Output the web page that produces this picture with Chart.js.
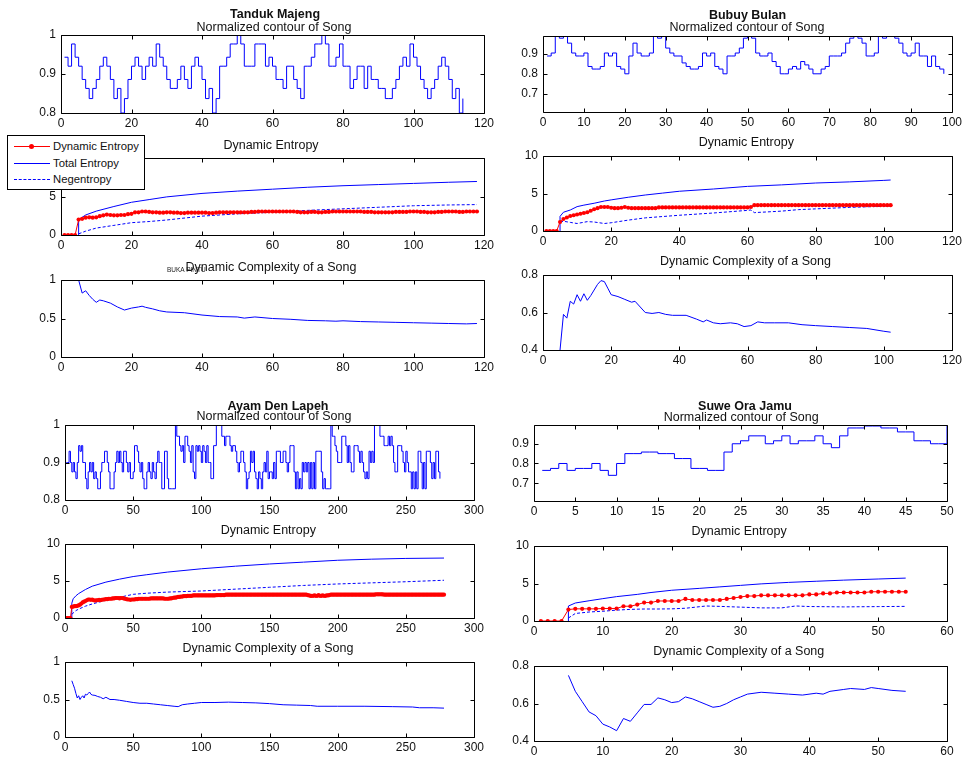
<!DOCTYPE html>
<html>
<head>
<meta charset="utf-8">
<title>Song entropy panels</title>
<script src="https://cdn.jsdelivr.net/npm/chart.js@4.4.0/dist/chart.umd.min.js"></script>
<style>
  html, body { margin: 0; padding: 0; background: #fff; overflow: hidden; }
  #page { position: relative; width: 964px; height: 760px; font-family: "Liberation Sans", Arial, sans-serif; color: #111; }
  #page canvas { position: absolute; }
  .ttl { position: absolute; width: 300px; margin-left: -150px; text-align: center; font-size: 12.5px; line-height: 14px; white-space: nowrap; z-index: 3; }
  .ttl.b { font-weight: bold; }
  #legend { position: absolute; left: 7px; top: 135px; width: 136px; height: 53px; border: 1px solid #000; background: #fff; z-index: 4; font-size: 11.3px; }
  #legend .row { position: absolute; left: 0; width: 136px; height: 14px; }
  #legend .ln { position: absolute; left: 6px; width: 36px; top: 7px; height: 0; border-top: 1px solid; }
  #legend .dot { position: absolute; left: 21px; top: 5px; width: 5px; height: 5px; border-radius: 50%; background: #ff0000; }
  #legend .tx { position: absolute; left: 45px; top: 0; line-height: 14px; }
  #tiny { position: absolute; left: 167px; top: 266px; font-size: 6.5px; color: #222; z-index: 2; }
</style>
</head>
<body>
<div id="page">
  <div id="legend">
    <div class="row" style="top:3px"><div class="ln" style="border-color:#ff0000"></div><div class="dot"></div><div class="tx">Dynamic Entropy</div></div>
    <div class="row" style="top:20px"><div class="ln" style="border-color:#0000ff"></div><div class="tx">Total Entropy</div></div>
    <div class="row" style="top:36px"><div class="ln" style="border-top:1px dashed #0000ff"></div><div class="tx">Negentropy</div></div>
  </div>
  <div id="tiny">BUKA PINTU</div>
</div>
<script>
/* ────────────────────────────────────────────
   DATA
──────────────────────────────────────────── */

// --- Tanduk Majeng ---
const tmContour = [
  0.943,0.92,0.977,0.943,0.92,0.886,0.863,0.837,0.863,0.886,
  0.92,0.943,0.92,0.886,0.837,0.863,0.8,0.837,0.886,0.92,
  0.943,0.92,0.886,0.92,0.943,0.92,0.977,0.943,0.92,0.886,
  0.863,0.863,0.886,0.92,0.886,0.863,0.92,0.943,0.92,0.886,
  0.837,0.863,0.8,0.837,0.92,0.92,0.943,0.977,0.977,1,
  0.977,0.92,0.92,0.92,0.977,0.977,0.977,0.92,0.943,0.92,
  0.886,0.886,0.863,0.92,0.92,0.886,0.863,0.837,0.92,0.92,
  0.943,0.977,0.977,1,0.977,0.92,0.92,0.943,0.977,0.92,
  0.92,0.863,0.886,0.92,0.92,0.863,0.92,0.886,0.886,0.863,
  0.863,0.837,0.837,0.863,0.886,0.92,0.943,0.92,0.977,0.943,
  0.92,0.886,0.863,0.837,0.863,0.886,0.92,0.943,0.92,0.886,
  0.837,0.863,0.8,0.837
];
const tmDynamic = [
  0,0,0,0,2.0,2.1,2.25,2.3,2.25,2.3,
  2.45,2.55,2.65,2.6,2.55,2.55,2.6,2.6,2.7,2.75,
  2.95,2.95,3.05,3.05,3.0,2.95,2.95,2.9,2.9,2.95,
  2.95,2.9,2.9,2.85,2.85,2.9,2.9,2.9,2.9,2.9,
  2.9,2.85,2.85,2.9,2.95,2.95,2.95,2.95,2.95,2.95,
  2.95,2.95,2.95,3.0,3.0,3.05,3.05,3.05,3.05,3.05,
  3.05,3.05,3.05,3.05,3.05,3.05,3.0,2.95,2.95,2.95,
  3.0,3.0,2.95,2.95,3.0,3.0,3.05,3.05,3.05,3.05,
  3.05,3.05,3.05,3.05,3.05,3.0,3.0,3.0,2.95,2.95,
  2.95,2.95,2.95,2.95,3.0,3.0,3.0,3.0,3.05,3.05,
  3.05,3.0,3.0,2.95,2.95,2.95,3.0,3.0,3.05,3.05,
  3.05,3.05,3.0,3.0,3.05,3.05,3.05,3.05
];
const tmTotalX = [5,5,7,10,15,20,25,30,40,50,60,70,80,90,100,110,118];
const tmTotalY = [0,2.0,2.6,3.1,3.7,4.25,4.6,4.95,5.4,5.7,5.95,6.2,6.4,6.55,6.7,6.85,6.95];
const tmNegX = [5,7,10,15,20,25,30,40,50,60,70,80,90,100,110,118];
const tmNegY = [0.15,0.5,0.9,1.25,1.6,1.75,1.95,2.45,2.75,2.95,3.2,3.4,3.6,3.8,3.9,3.95];
const tmCplxX = [5,6,7,8,9,10,11,12,14,16,18,20,22,23,24,26,28,30,35,40,45,50,52,55,60,65,70,75,78,80,85,90,95,100,105,110,115,118];
const tmCplxY = [1.0,0.83,0.86,0.8,0.75,0.71,0.74,0.73,0.7,0.65,0.61,0.635,0.65,0.66,0.645,0.625,0.6,0.585,0.575,0.545,0.525,0.52,0.505,0.52,0.5,0.49,0.475,0.47,0.465,0.47,0.46,0.455,0.45,0.445,0.44,0.435,0.43,0.435];

// --- Bubuy Bulan ---
const bbContour = [
  0.89,0.905,0.99,0.98,0.99,0.955,0.905,0.89,0.89,0.905,
  0.837,0.824,0.824,0.837,0.905,0.89,0.905,0.837,0.824,0.8,
  0.89,0.955,0.905,0.89,0.89,0.905,0.99,0.98,0.99,0.93,
  0.905,0.89,0.89,0.855,0.837,0.824,0.824,0.837,0.905,0.89,
  0.905,0.837,0.824,0.8,0.89,0.89,0.905,0.93,0.98,0.99,
  0.98,0.905,0.89,0.89,0.905,0.862,0.837,0.8,0.8,0.824,
  0.837,0.824,0.862,0.845,0.824,0.8,0.8,0.824,0.837,0.89,
  0.89,0.89,0.905,0.955,0.98,0.99,0.98,0.955,0.89,0.89,
  0.905,0.99,0.98,0.99,0.99,0.98,0.955,0.905,0.89,0.905,
  0.955,0.89,0.89,0.837,0.89,0.837,0.824,0.8
];
const bbDynamic = [
  0,0,0,0,1.2,1.6,1.8,2.0,2.1,2.2,
  2.3,2.4,2.5,2.7,2.9,3.05,3.2,3.2,3.2,3.1,
  3.05,3.05,3.1,3.2,3.1,3.05,3.05,3.05,3.05,3.05,
  3.05,3.05,3.05,3.15,3.15,3.15,3.15,3.15,3.15,3.15,
  3.15,3.15,3.15,3.15,3.15,3.15,3.15,3.15,3.15,3.15,
  3.15,3.15,3.15,3.15,3.15,3.15,3.15,3.15,3.15,3.15,
  3.2,3.45,3.45,3.45,3.45,3.45,3.45,3.45,3.45,3.45,
  3.45,3.45,3.45,3.45,3.45,3.45,3.45,3.45,3.45,3.45,
  3.45,3.45,3.45,3.45,3.45,3.45,3.45,3.45,3.45,3.45,
  3.45,3.45,3.45,3.45,3.45,3.45,3.45,3.45,3.45,3.45,
  3.45,3.45
];
const bbTotalX = [5,5,6,8,10,12,15,18,20,25,30,35,40,50,60,70,80,90,100,102];
const bbTotalY = [0,1.95,2.5,2.8,3.25,3.45,3.7,4.0,4.15,4.5,4.8,5.05,5.3,5.6,5.95,6.15,6.4,6.55,6.75,6.8];
const bbNegX = [5,6,8,10,13,15,18,20,25,30,40,50,60,61,62,70,75,80,90,100,102];
const bbNegY = [1.2,1.3,1.15,1.0,1.25,1.2,1.0,1.1,1.45,1.75,2.1,2.4,2.75,2.8,2.45,2.65,2.85,2.95,3.15,3.3,3.35];
const bbCplxX = [5,6,7,8,9,10,11,12,13,14,15,16,17,18,19,20,22,24,26,27,28,30,32,34,36,38,42,45,47,48,50,52,55,57,59,61,63,65,68,72,76,80,85,90,95,100,102];
const bbCplxY = [0.4,0.59,0.57,0.66,0.645,0.695,0.66,0.7,0.665,0.69,0.72,0.75,0.77,0.765,0.73,0.695,0.685,0.67,0.655,0.66,0.64,0.6,0.595,0.6,0.59,0.585,0.585,0.565,0.55,0.56,0.545,0.54,0.545,0.54,0.525,0.53,0.55,0.545,0.545,0.545,0.535,0.53,0.525,0.52,0.515,0.5,0.495];

// --- Ayam Den Lapeh ---
const adContour = [
  0.9,0.9,0.93,0.9,0.875,0.9,0.875,0.857,0.9,0.945,0.93,0.945,0.9,0.9,0.857,0.83,0.875,0.9,0.875,0.9,0.857,0.875,0.857,0.83,0.83,
  0.875,0.9,0.9,0.93,0.93,0.9,0.875,0.83,0.83,0.83,0.875,0.9,0.93,0.9,0.93,0.9,0.875,0.93,0.93,0.9,0.875,0.9,0.857,0.857,0.875,
  0.945,0.945,0.93,0.9,0.875,0.9,0.857,0.83,0.83,0.875,0.9,0.875,0.857,0.9,0.875,0.857,0.9,0.93,0.9,0.9,0.83,0.83,0.93,0.93,0.857,
  0.83,0.83,0.83,0.83,0.83,1,0.97,0.97,0.945,0.93,0.945,0.9,0.97,0.97,0.945,0.93,0.9,0.945,0.875,0.857,0.945,0.93,0.945,0.93,0.9,
  0.945,0.93,0.9,0.945,0.9,0.9,0.857,0.857,0.945,0.945,1,1,1,1,0.97,0.97,0.945,0.97,0.97,0.97,0.945,0.93,0.945,0.945,0.93,
  0.9,0.875,0.9,0.93,0.93,0.9,0.875,0.83,0.857,0.875,0.93,0.9,0.93,0.875,0.857,0.83,0.875,0.857,0.83,0.875,0.9,0.875,0.93,0.857,0.875,
  0.875,0.857,0.9,0.857,0.93,0.93,0.93,0.9,0.9,0.93,0.93,0.9,0.875,0.9,0.945,0.945,0.945,0.875,0.83,0.875,0.83,0.857,0.83,0.9,0.875,
  0.9,0.875,0.9,0.83,0.9,0.83,0.9,0.83,0.93,0.93,0.93,0.93,0.875,0.83,0.857,0.83,0.83,0.83,0.83,1,0.97,0.97,0.945,0.93,0.9,
  0.9,0.9,0.97,0.97,0.97,0.945,0.9,0.945,0.9,0.875,0.875,0.945,0.945,0.945,0.93,0.9,0.93,0.9,0.875,0.857,0.875,0.857,0.93,0.9,0.93,
  0.9,1,1,1,1,0.97,0.97,0.97,0.945,0.945,0.945,0.97,0.945,0.97,0.945,0.9,0.875,0.875,0.945,0.945,0.945,0.93,0.9,0.875,0.93,
  0.9,0.875,0.875,0.83,0.875,0.83,0.875,0.83,0.93,0.93,0.9,0.83,0.9,0.83,0.93,0.93,0.93,0.9,0.857,0.9,0.857,0.93,0.93,0.875,0.857
];
const adDynamic = [
  0,0,0,0,1.5,1.55,1.6,1.6,1.65,1.7,
  1.8,1.95,2.1,2.2,2.3,2.4,2.5,2.5,2.45,2.5,
  2.4,2.35,2.4,2.4,2.45,2.4,2.45,2.5,2.5,2.55,
  2.55,2.6,2.6,2.6,2.65,2.65,2.7,2.7,2.7,2.65,
  2.7,2.7,2.65,2.6,2.55,2.5,2.5,2.45,2.5,2.5,
  2.5,2.55,2.55,2.6,2.6,2.6,2.6,2.6,2.6,2.6,
  2.6,2.6,2.65,2.65,2.65,2.65,2.65,2.65,2.65,2.65,
  2.65,2.65,2.6,2.6,2.6,2.6,2.65,2.65,2.7,2.75,
  2.75,2.8,2.85,2.85,2.9,2.9,2.95,2.95,2.95,3.0,
  3.0,3.0,3.0,3.05,3.05,3.05,3.05,3.05,3.05,3.05,
  3.05,3.05,3.05,3.05,3.05,3.05,3.05,3.05,3.05,3.05,
  3.1,3.1,3.1,3.1,3.1,3.1,3.1,3.15,3.15,3.15,
  3.15,3.15,3.15,3.15,3.15,3.15,3.15,3.15,3.15,3.15,
  3.15,3.15,3.15,3.15,3.15,3.15,3.15,3.15,3.15,3.15,
  3.15,3.15,3.15,3.15,3.15,3.15,3.15,3.15,3.15,3.15,
  3.15,3.15,3.15,3.15,3.15,3.15,3.15,3.15,3.15,3.15,
  3.15,3.15,3.15,3.15,3.15,3.15,3.15,3.15,3.15,3.15,
  3.15,3.15,3.15,3.15,3.15,3.15,3.15,3.1,3.05,3.0,
  3.0,3.0,3.05,3.0,3.0,3.1,3.0,3.0,3.05,3.0,
  3.0,3.05,3.05,3.1,3.15,3.15,3.15,3.15,3.15,3.15,
  3.15,3.15,3.15,3.15,3.15,3.15,3.15,3.15,3.15,3.15,
  3.15,3.15,3.15,3.15,3.15,3.15,3.15,3.15,3.15,3.15,
  3.15,3.15,3.15,3.15,3.15,3.15,3.15,3.2,3.2,3.2,
  3.2,3.2,3.2,3.15,3.15,3.15,3.15,3.15,3.15,3.15,
  3.15,3.15,3.15,3.15,3.15,3.15,3.15,3.15,3.15,3.15,
  3.15,3.15,3.15,3.15,3.15,3.15,3.15,3.15,3.15,3.15,
  3.15,3.15,3.15,3.15,3.15,3.15,3.15,3.15,3.15,3.15,
  3.15,3.15,3.15,3.15,3.15,3.15,3.15,3.15
];
const adTotalX = [5,5,6,8,10,15,20,30,40,50,60,75,100,125,150,175,200,225,250,278];
const adTotalY = [0,2.0,2.6,3.0,3.3,3.85,4.3,4.85,5.25,5.6,5.85,6.2,6.65,7.0,7.3,7.55,7.8,7.95,8.05,8.1];
const adNegX = [5,8,10,15,20,30,40,50,60,75,100,125,150,175,200,225,250,278];
const adNegY = [0.5,1.0,1.2,1.6,1.9,2.4,2.8,3.2,3.35,3.5,3.65,3.9,4.15,4.4,4.6,4.75,4.9,5.1];
const adCplxX = [5,6,7,8,9,10,11,12,13,14,15,16,17,18,19,20,22,24,26,28,30,33,36,40,45,50,55,60,65,70,75,80,83,86,90,95,100,110,120,130,140,150,160,170,180,185,200,220,240,255,260,270,278];
const adCplxY = [0.75,0.7,0.65,0.58,0.52,0.55,0.5,0.53,0.55,0.52,0.57,0.56,0.58,0.6,0.57,0.56,0.555,0.54,0.53,0.51,0.53,0.5,0.5,0.49,0.475,0.46,0.45,0.45,0.44,0.43,0.42,0.41,0.405,0.43,0.44,0.45,0.46,0.46,0.465,0.46,0.455,0.445,0.43,0.425,0.42,0.41,0.41,0.41,0.405,0.4,0.39,0.39,0.385];

// --- Suwe Ora Jamu ---
const sjContour = [
  0.765,0.775,0.8,0.765,0.775,0.775,0.8,0.765,0.74,0.8,
  0.85,0.85,0.858,0.858,0.85,0.85,0.825,0.825,0.775,0.775,
  0.765,0.765,0.858,0.9,0.915,0.94,0.94,0.9,0.915,0.94,
  0.9,0.915,0.915,0.94,0.9,0.88,0.94,0.98,0.98,0.99,
  0.99,0.98,0.98,0.96,0.96,0.915,0.915,0.9,0.9,0.99
];
const sjDynamic = [
  0,0,0,0,1.53,1.62,1.62,1.62,1.62,1.67,
  1.67,1.67,1.97,1.97,2.19,2.46,2.46,2.67,2.67,2.67,
  2.67,2.94,2.8,2.8,2.8,2.8,2.8,2.94,3.07,3.2,
  3.33,3.33,3.42,3.42,3.42,3.42,3.42,3.42,3.42,3.55,
  3.55,3.68,3.68,3.8,3.8,3.8,3.8,3.8,3.9,3.9,
  3.9,3.9,3.9,3.9
];
const sjTotalX = [5,5,6,8,10,12,15,17,20,24,27,30,33,37,41,45,50,54];
const sjTotalY = [0,2.0,2.4,2.7,2.98,3.25,3.55,3.8,4.1,4.35,4.55,4.75,4.95,5.15,5.3,5.45,5.6,5.72];
const sjNegX = [5,6,8,10,12,14,16,18,20,22,25,27,30,33,36,38,40,45,50,54];
const sjNegY = [0.4,1.0,1.2,1.3,1.45,1.55,1.6,1.6,1.62,1.7,2.0,1.95,1.85,1.75,1.75,2.0,1.93,1.88,1.92,1.95];
const sjCplxX = [5,6,7,8,9,10,11,12,13,14,15,16,17,18,19,20,21,22,23,24,25,26,27,28,29,30,31,33,35,37,39,41,42,43,45,46,48,49,50,52,54];
const sjCplxY = [0.75,0.665,0.61,0.555,0.535,0.49,0.475,0.455,0.52,0.505,0.55,0.595,0.595,0.63,0.62,0.605,0.61,0.635,0.625,0.61,0.595,0.58,0.585,0.6,0.62,0.635,0.65,0.66,0.655,0.65,0.645,0.655,0.65,0.665,0.675,0.68,0.675,0.685,0.68,0.67,0.665];

// --- tick values ---
const ticks0to1 = [0, 0.5, 1];
const ticks08to1 = [0.8, 0.9, 1];
const ticks07to09 = [0.7, 0.8, 0.9];
const ticks04to08 = [0.4, 0.6, 0.8];
const ticksEntropy = [0, 5, 10];
const ticks120 = [0, 20, 40, 60, 80, 100, 120];
const ticks100 = [0, 10, 20, 30, 40, 50, 60, 70, 80, 90, 100];
const ticks300 = [0, 50, 100, 150, 200, 250, 300];
const ticks50 = [0, 5, 10, 15, 20, 25, 30, 35, 40, 45, 50];
const ticks60 = [0, 10, 20, 30, 40, 50, 60];

/* ────────────────────────────────────────────
   DRAWING
──────────────────────────────────────────── */
const FONT = '"Liberation Sans", Arial, sans-serif';
const BLUE = '#0000ff';
const RED = '#ff0000';
const PAD_TOP = 18;
const page = document.getElementById('page');

function seq(ys) { return ys.map((y, i) => ({ x: i + 1, y })); }
function pts(xs, ys) { return xs.map((x, i) => ({ x, y: ys[i] })); }
function fmt(v) { return String(+(+v).toFixed(3)); }

// MATLAB style box with inward ticks on all four sides
const axesBox = {
  id: 'axesBox',
  afterDraw(chart) {
    const { ctx, chartArea: a, scales: { x, y } } = chart;
    const L = Math.round(a.left) + 0.5, R = Math.round(a.right) + 0.5;
    const T = Math.round(a.top) + 0.5, B = Math.round(a.bottom) + 0.5;
    ctx.save();
    ctx.strokeStyle = '#000';
    ctx.lineWidth = 1;
    ctx.beginPath();
    x.ticks.forEach(t => {
      const px = Math.round(x.getPixelForValue(t.value)) + 0.5;
      ctx.moveTo(px, B); ctx.lineTo(px, B - 4);
      ctx.moveTo(px, T); ctx.lineTo(px, T + 4);
    });
    y.ticks.forEach(t => {
      const py = Math.round(y.getPixelForValue(t.value)) + 0.5;
      ctx.moveTo(L, py); ctx.lineTo(L + 4, py);
      ctx.moveTo(R, py); ctx.lineTo(R - 4, py);
    });
    ctx.rect(L, T, R - L, B - T);
    ctx.stroke();
    ctx.restore();
  }
};

function axis(range, tickVals, isX) {
  return {
    type: 'linear', min: range[0], max: range[1],
    grid: { display: false, drawTicks: false },
    border: { display: false },
    ticks: { font: { family: FONT, size: 12 }, color: '#111', padding: isX ? 3 : 5,
             maxRotation: 0, autoSkip: false, callback: fmt },
    afterBuildTicks: s => { s.ticks = tickVals.map(v => ({ value: v })); },
    afterFit: s => { if (isX) s.height = 22; else s.width = 40; }
  };
}

function panel(rect, xr, xt, yr, yt, datasets) {
  const [l, t, r, b] = rect;
  const w = r - l + 56, h = b - t + PAD_TOP + 22;
  const cv = document.createElement('canvas');
  cv.width = w; cv.height = h;
  cv.style.left = (l - 40) + 'px';
  cv.style.top = (t - PAD_TOP) + 'px';
  cv.style.width = w + 'px';
  cv.style.height = h + 'px';
  page.appendChild(cv);
  new Chart(cv, {
    type: 'line',
    data: { datasets },
    options: {
      responsive: false, animation: false, devicePixelRatio: 1,
      layout: { padding: { top: PAD_TOP, right: 16, left: 0, bottom: 0 } },
      plugins: { legend: { display: false }, tooltip: { enabled: false } },
      elements: { line: { tension: 0 } },
      scales: { x: axis(xr, xt, true), y: axis(yr, yt, false) }
    },
    plugins: [axesBox]
  });
}

function stairs(vals) {
  return [{ data: seq(vals), borderColor: BLUE, borderWidth: 1, pointRadius: 0, stepped: true }];
}
function entropy(dyn, totX, totY, negX, negY) {
  return [
    { data: seq(dyn), borderColor: RED, borderWidth: 1, pointRadius: 2.1, pointBackgroundColor: RED, pointBorderWidth: 0, order: 0 },
    { data: pts(totX, totY), borderColor: BLUE, borderWidth: 1, pointRadius: 0, order: 1 },
    { data: pts(negX, negY), borderColor: BLUE, borderWidth: 1, borderDash: [3, 2], pointRadius: 0, order: 2 }
  ];
}
function complexity(xs, ys) {
  return [{ data: pts(xs, ys), borderColor: BLUE, borderWidth: 1, pointRadius: 0 }];
}

// Tanduk Majeng
panel([61, 35, 484, 113], [0, 120], ticks120, [0.8, 1], ticks08to1, stairs(tmContour));
panel([61, 158, 484, 235], [0, 120], ticks120, [0, 10], ticksEntropy, entropy(tmDynamic, tmTotalX, tmTotalY, tmNegX, tmNegY));
panel([61, 280, 484, 357], [0, 120], ticks120, [0, 1], ticks0to1, complexity(tmCplxX, tmCplxY));

// Bubuy Bulan
panel([543, 36, 952, 112], [0, 100], ticks100, [0.607, 0.991], ticks07to09, stairs(bbContour));
panel([543, 156, 952, 231], [0, 120], ticks120, [0, 10], ticksEntropy, entropy(bbDynamic, bbTotalX, bbTotalY, bbNegX, bbNegY));
panel([543, 275, 952, 350], [0, 120], ticks120, [0.4, 0.8], ticks04to08, complexity(bbCplxX, bbCplxY));

// Ayam Den Lapeh
panel([65, 425, 474, 500], [0, 300], ticks300, [0.8, 1], ticks08to1, stairs(adContour));
panel([65, 544, 474, 618], [0, 300], ticks300, [0, 10], ticksEntropy, entropy(adDynamic, adTotalX, adTotalY, adNegX, adNegY));
panel([65, 662, 474, 737], [0, 300], ticks300, [0, 1], ticks0to1, complexity(adCplxX, adCplxY));

// Suwe Ora Jamu
panel([534, 425, 947, 501], [0, 50], ticks50, [0.61, 0.995], ticks07to09, stairs(sjContour));
panel([534, 546, 947, 621], [0, 60], ticks60, [0, 10], ticksEntropy, entropy(sjDynamic, sjTotalX, sjTotalY, sjNegX, sjNegY));
panel([534, 666, 947, 741], [0, 60], ticks60, [0.4, 0.8], ticks04to08, complexity(sjCplxX, sjCplxY));

// titles: text, centre x, cap centre y, bold
const titles = [
  ['Tanduk Majeng', 275, 13.3, true], ['Normalized contour of Song', 274, 26.5, false],
  ['Dynamic Entropy', 271, 144.3, false], ['Dynamic Complexity of a Song', 271, 266.7, false],
  ['Bubuy Bulan', 747.5, 15, true], ['Normalized contour of Song', 747, 27.2, false],
  ['Dynamic Entropy', 746.3, 141.3, false], ['Dynamic Complexity of a Song', 745.5, 260.5, false],
  ['Ayam Den Lapeh', 278, 405.5, true], ['Normalized contour of Song', 274, 415.8, false],
  ['Dynamic Entropy', 268.3, 529.7, false], ['Dynamic Complexity of a Song', 268, 647.8, false],
  ['Suwe Ora Jamu', 745, 405.5, true], ['Normalized contour of Song', 741.2, 417.2, false],
  ['Dynamic Entropy', 739.2, 531.2, false], ['Dynamic Complexity of a Song', 738.8, 651.2, false]
];
titles.forEach(([text, cx, cy, bold]) => {
  const d = document.createElement('div');
  d.className = 'ttl' + (bold ? ' b' : '');
  d.textContent = text;
  d.style.left = cx + 'px';
  d.style.top = (cy - 6.8) + 'px';
  page.appendChild(d);
});
</script>
</body>
</html>
